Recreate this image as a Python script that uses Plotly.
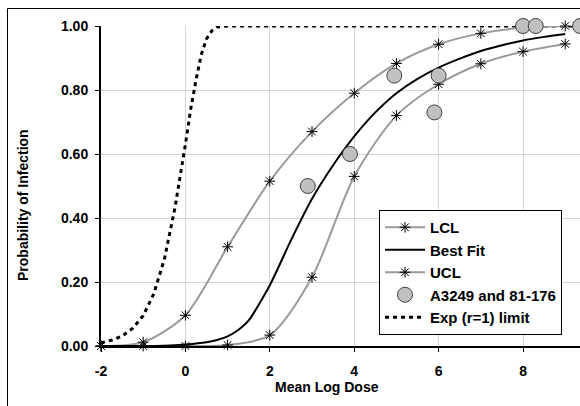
import plotly.graph_objects as go

# ---- data ----
dose_int = [-2, -1, 0, 1, 2, 3, 4, 5, 6, 7, 8, 9]
lcl_vals = [0.0, 0.0, 0.0, 0.003, 0.034, 0.215, 0.53, 0.72, 0.818, 0.882, 0.92, 0.944]
ucl_vals = [0.0, 0.012, 0.096, 0.31, 0.515, 0.67, 0.79, 0.883, 0.943, 0.977, 0.995, 1.0]

fit_dose = [-2, -1.5, -1, -0.5, 0, 0.5, 0.75, 1, 1.25, 1.5, 2, 2.5, 3, 3.5, 4, 4.5, 5, 5.5, 6, 6.5, 7, 7.5, 8, 8.5, 9]
fit_vals = [0.0, 0.0, 0.0, 0.001, 0.005, 0.012, 0.019, 0.03, 0.05, 0.08, 0.19, 0.33, 0.46, 0.565, 0.655, 0.73, 0.79, 0.835, 0.87, 0.898, 0.922, 0.94, 0.955, 0.966, 0.975]

obs_dose = [2.9, 3.9, 4.95, 5.9, 6.0, 8.0, 8.3, 9.35]
obs_prob = [0.5, 0.6, 0.845, 0.73, 0.845, 1.0, 1.0, 1.0]

exp_dose = [-2, -1.75, -1.5, -1.25, -1, -0.75, -0.5, -0.25, 0, 0.125, 0.25, 0.375, 0.5, 0.625, 0.75, 1.0, 9.4]
exp_vals = [0.01, 0.018, 0.031, 0.055, 0.095, 0.163, 0.27, 0.43, 0.63, 0.74, 0.83, 0.91, 0.96, 0.985, 0.997, 1.0, 1.0]

x_ticks = [-2, 0, 2, 4, 6, 8]
y_ticks = [0.0, 0.2, 0.4, 0.6, 0.8, 1.0]

FONT = "Liberation Sans, Arial, sans-serif"
GRAY = "#9a9a9a"

fig = go.Figure()

fig.add_trace(go.Scatter(
    x=exp_dose, y=exp_vals, mode="lines", name="Exp (r=1) limit",
    line=dict(color="black", width=3, dash="4px,4px"), legendrank=5,
    cliponaxis=False))

marker_ast = dict(symbol="asterisk-open", size=9, color="black",
                  line=dict(color="black", width=1))

fig.add_trace(go.Scatter(
    x=dose_int, y=lcl_vals, mode="lines+markers", name="LCL",
    line=dict(color=GRAY, width=2, shape="spline", smoothing=0.8),
    marker=marker_ast, legendrank=1, cliponaxis=False))

fig.add_trace(go.Scatter(
    x=dose_int, y=ucl_vals, mode="lines+markers", name="UCL",
    line=dict(color=GRAY, width=2, shape="spline", smoothing=0.8),
    marker=marker_ast, legendrank=3, cliponaxis=False))

fig.add_trace(go.Scatter(
    x=fit_dose, y=fit_vals, mode="lines", name="Best Fit",
    line=dict(color="black", width=2, shape="spline", smoothing=0.6),
    legendrank=2, cliponaxis=False))

fig.add_trace(go.Scatter(
    x=obs_dose, y=obs_prob, mode="markers", name="A3249 and 81-176",
    marker=dict(symbol="circle", size=15, color="#c0c0c0",
                line=dict(color="#404040", width=1)),
    legendrank=4, cliponaxis=False))

L, T, B = 101, 26, 60
W, H = 580, 406
pw = W - L
ph = H - T - B

def px(p):
    return (p - L) / pw

def py(p):
    return (H - B - p) / ph

fig.update_layout(
    width=W, height=H,
    margin=dict(l=L, r=0, t=T, b=B),
    paper_bgcolor="white", plot_bgcolor="white",
    font=dict(family=FONT, size=14, color="black"),
    showlegend=True,
    legend=dict(x=px(379), y=py(210), xanchor="left", yanchor="top",
                bgcolor="white", bordercolor="black", borderwidth=1,
                font=dict(family=FONT, size=15, color="black", weight="bold"),
                traceorder="normal", itemwidth=40, tracegroupgap=0),
    xaxis=dict(range=[-2, 9.35], tickvals=x_ticks, ticktext=[str(v) for v in x_ticks],
               showgrid=True, gridcolor="#d4d4d4", gridwidth=1,
               showline=True, linecolor="black", linewidth=2,
               ticks="outside", ticklen=4, tickcolor="black", tickwidth=1,
               zeroline=False, ticklabelstandoff=7,
               tickfont=dict(family=FONT, size=14, color="black", weight="bold")),
    yaxis=dict(range=[0, 1], tickvals=y_ticks, ticktext=["%.2f" % v for v in y_ticks],
               showgrid=True, gridcolor="#d4d4d4", gridwidth=1,
               showline=True, linecolor="black", linewidth=2,
               ticks="outside", ticklen=4, tickcolor="black", tickwidth=1,
               zeroline=False, ticklabelstandoff=4,
               tickfont=dict(family=FONT, size=14, color="black", weight="bold")),
    annotations=[
        dict(text="<b>Mean Log Dose</b>", x=px(327), y=py(387), xref="paper", yref="paper",
             xanchor="center", yanchor="middle", showarrow=False,
             font=dict(family=FONT, size=14, color="black")),
        dict(text="<b>Probability of Infection</b>", x=px(23), y=py(205), xref="paper", yref="paper",
             xanchor="center", yanchor="middle", showarrow=False, textangle=-90,
             font=dict(family=FONT, size=14, color="black")),
    ],
    shapes=[
        dict(type="rect", xref="paper", yref="paper",
             x0=px(7.5), x1=1.2, y0=-0.5, y1=py(8.5),
             line=dict(color="black", width=1), layer="below"),
    ],
)

fig.write_html("out.html")
